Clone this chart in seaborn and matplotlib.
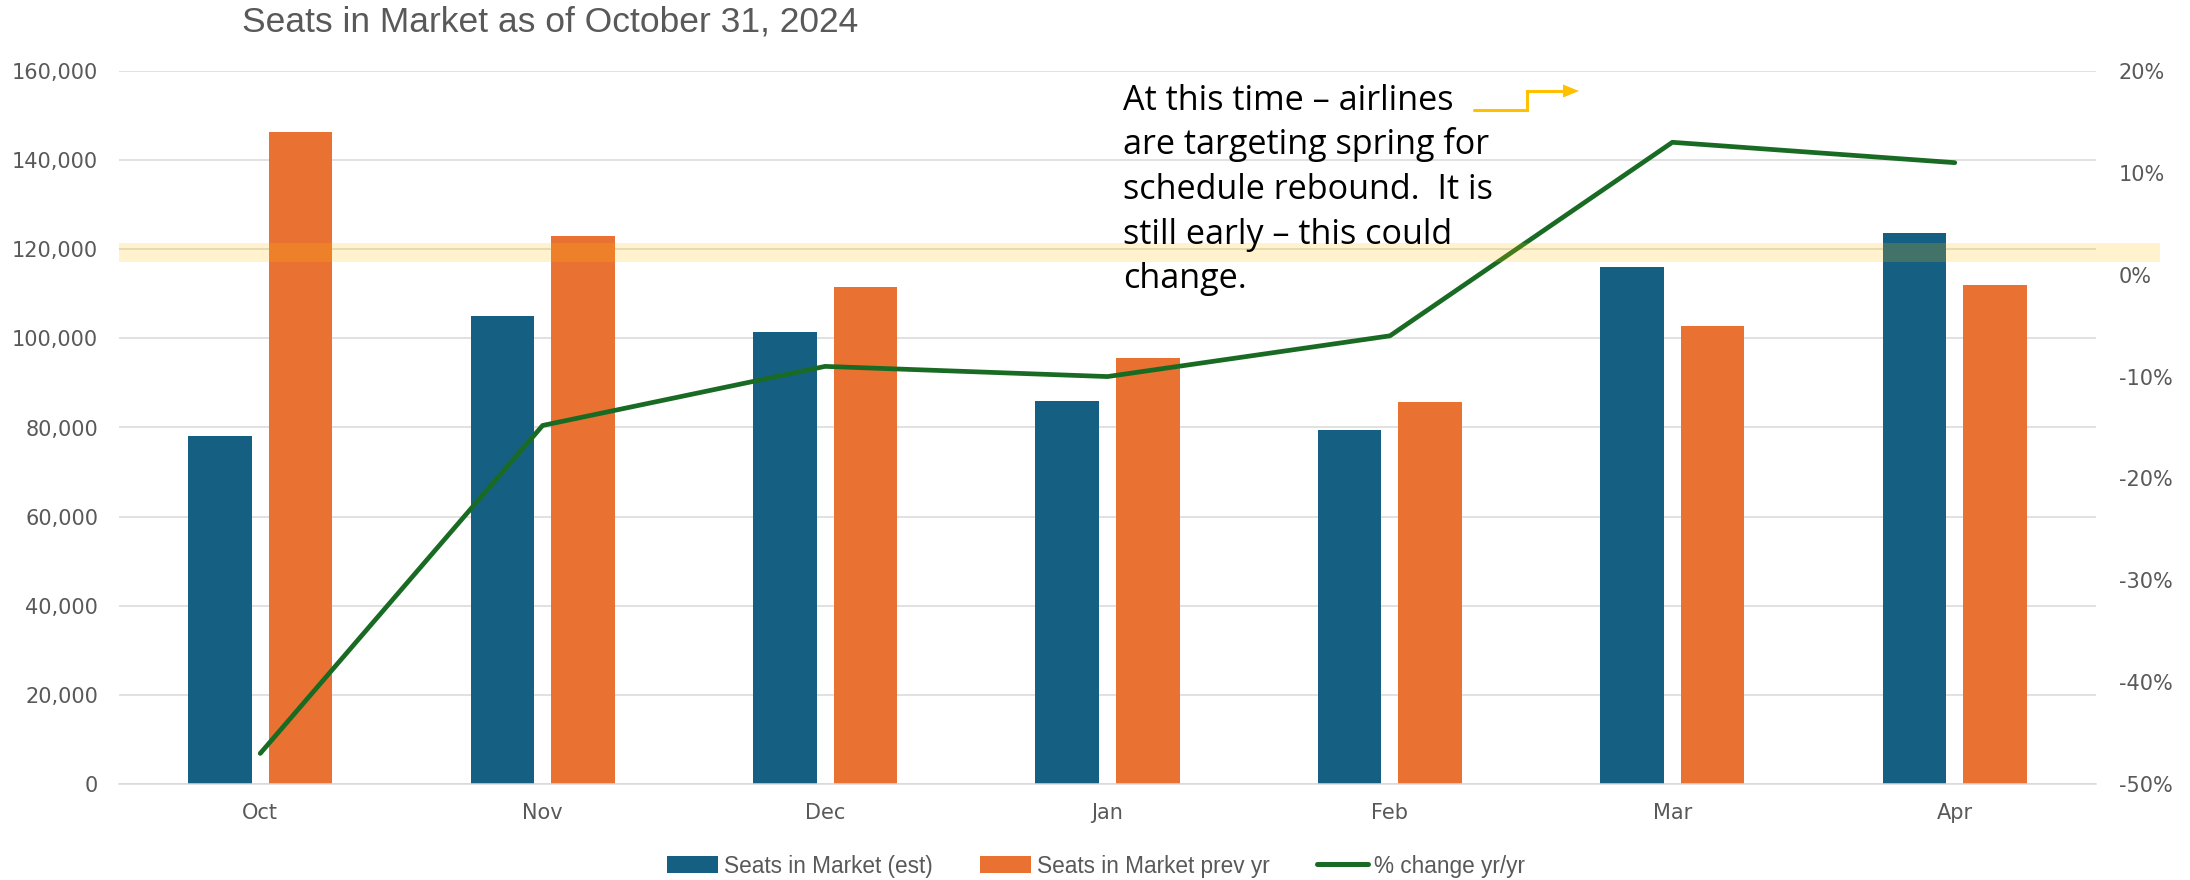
import numpy as np
import pandas as pd
import matplotlib
matplotlib.use("Agg")
import matplotlib.pyplot as plt
import matplotlib.transforms as mtransforms
import seaborn as sns
from matplotlib.patches import Patch, Rectangle, Polygon
from matplotlib.lines import Line2D
from matplotlib.ticker import FuncFormatter, MultipleLocator, FixedLocator

# --- data ---
months = ["Oct", "Nov", "Dec", "Jan", "Feb", "Mar", "Apr"]
seats_est = [78000, 105000, 101500, 86000, 79500, 116000, 123700]
seats_prev = [146300, 123000, 111500, 95500, 85800, 102700, 112000]
pct_change = [-0.47, -0.148, -0.09, -0.10, -0.06, 0.13, 0.11]
series_names = ["Seats in Market (est)", "Seats in Market prev yr"]
line_name = "% change yr/yr"
band_low, band_high = 117100, 121500  # yellow highlight around 120k

note_lines = [
    "At this time \u2013 airlines",
    "are targeting spring for",
    "schedule rebound.  It is",
    "still early \u2013 this could",
    "change.",
]

BLUE = "#156082"
ORANGE = "#E97132"
GREEN = "#196B24"
GOLD = "#FFC000"
GRID = "#D9D9D9"
TEXT = "#595959"

W, H = 2190, 880


def fx(px):
    return px / W


def fy(py):
    return 1 - py / H


sns.set_theme(style="white")
plt.rcParams["font.family"] = ["DejaVu Sans"]

fig = plt.figure(figsize=(W / 100, H / 100), dpi=100)
ax = fig.add_axes([fx(119), fy(784), fx(2096) - fx(119), fy(71) - fy(784)])

df = pd.DataFrame({
    "month": months * 2,
    "seats": seats_est + seats_prev,
    "series": [series_names[0]] * len(months) + [series_names[1]] * len(months),
})
sns.barplot(data=df, x="month", y="seats", hue="series", order=months,
            hue_order=series_names, palette=[BLUE, ORANGE], saturation=1,
            width=0.57, gap=0.21, linewidth=0, legend=False, ax=ax)

ax.set_ylim(0, 160000)
ax.set_xlim(-0.5, len(months) - 0.5)
ax.yaxis.set_major_locator(MultipleLocator(20000))
ax.yaxis.set_major_formatter(FuncFormatter(lambda v, _: f"{v:,.0f}"))
ax.grid(axis="y", color=GRID, linewidth=1.1)
ax.grid(axis="x", visible=False)
ax.set_axisbelow(True)
for s in ["top", "left", "right"]:
    ax.spines[s].set_visible(False)
ax.spines["bottom"].set_color(GRID)
ax.spines["bottom"].set_linewidth(1.1)
ax.tick_params(axis="y", length=0, pad=15, labelsize=15, labelcolor=TEXT)
ax.tick_params(axis="x", which="major", length=0, pad=14, labelsize=15, labelcolor=TEXT)
ax.xaxis.set_minor_locator(FixedLocator(np.arange(-0.5, len(months), 1.0)))
ax.tick_params(axis="x", which="minor", length=5, width=1.1, color=GRID, direction="out")
ax.set_xlabel("")
ax.set_ylabel("")

# secondary axis: % change
ax2 = ax.twinx()
sns.lineplot(x=np.arange(len(months)), y=pct_change, color=GREEN, linewidth=3.4,
             solid_capstyle="round", ax=ax2)
ax2.set_ylim(-0.5, 0.2)
ax2.yaxis.set_major_locator(MultipleLocator(0.1))
ax2.yaxis.set_major_formatter(FuncFormatter(lambda v, _: f"{round(v * 100):d}%"))
ax2.tick_params(axis="y", length=0, pad=16.5, labelsize=15, labelcolor=TEXT)
ax2.grid(False)
for s in ax2.spines.values():
    s.set_visible(False)
ax2.set_ylabel("")
ax2.set_xlim(-0.5, len(months) - 0.5)

# yellow highlight band around 120,000
trans = mtransforms.blended_transform_factory(ax.transAxes, ax.transData)
ax2.add_patch(Rectangle((0, band_low), 1.0324, band_high - band_low, transform=trans,
                        facecolor=GOLD, alpha=0.2, linewidth=0, clip_on=False, zorder=10))

# title
fig.text(fx(241.7), fy(32), "Seats in Market as of October 31, 2024", fontsize=25.5,
         color=TEXT, family=["Liberation Sans", "DejaVu Sans"], ha="left", va="baseline")

# note text, one line per baseline
for i, line in enumerate(note_lines):
    fig.text(fx(1122.7), fy(110 + 44.5 * i), line, fontsize=24.6, color="black",
             family=["Open Sans", "DejaVu Sans"], ha="left", va="baseline")

# step arrow
fig.add_artist(Line2D([fx(1474), fx(1527), fx(1527), fx(1565)],
                      [fy(110), fy(110), fy(91), fy(91)], transform=fig.transFigure,
                      color=GOLD, linewidth=2.2, solid_joinstyle="miter"))
fig.add_artist(Polygon([[fx(1563), fy(84.5)], [fx(1579), fy(91)], [fx(1563), fy(97.5)]],
                       closed=True, transform=fig.transFigure, facecolor=GOLD,
                       edgecolor="none"))

# legend
handles = [
    Patch(facecolor=BLUE, edgecolor="none", label=series_names[0]),
    Patch(facecolor=ORANGE, edgecolor="none", label=series_names[1]),
    Line2D([0], [0], color=GREEN, linewidth=3.6, solid_capstyle="round", label=line_name),
]
fig.legend(handles=handles, loc="center", bbox_to_anchor=(fx(1096), fy(866)), ncol=3,
           frameon=False, prop={"family": ["Liberation Sans", "DejaVu Sans"], "size": 16.3},
           labelcolor=TEXT, handlelength=2.26, handletextpad=0.27, columnspacing=2.08,
           handleheight=0.75)

fig.savefig("out.png", dpi=100)
